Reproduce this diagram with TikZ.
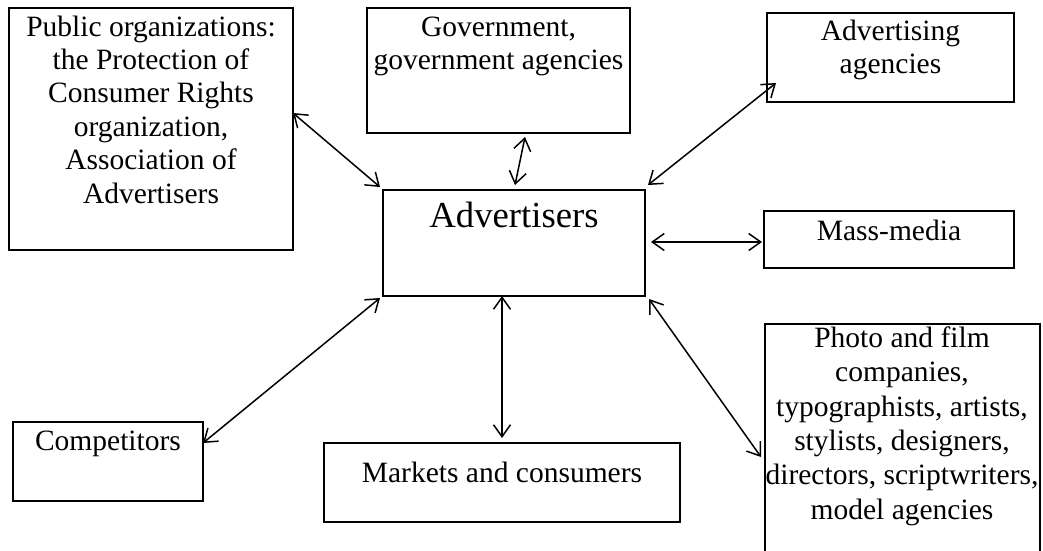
\documentclass[tikz,border=0pt]{standalone}
\usepackage{fontspec}
\setmainfont{Liberation Serif}
\usetikzlibrary{arrows.meta,calc}
% top-aligned, centred block of lines; its baseline is that of the first line
\newcommand\boxlines[1]{\parbox[t]{340pt}{\centering #1}}

\begin{document}
\begin{tikzpicture}[x=1pt,y=-1pt,
  frame/.style={draw, line width=1.8pt, rectangle, inner sep=0pt, outer sep=0pt, anchor=north west},
  boxtext/.style={inner sep=0pt, anchor=base, font=\fontsize{29.5}{33.4}\selectfont},
  link/.style={line width=1.5pt,
    {Straight Barb[length=12pt,width=17pt]}-{Straight Barb[length=12pt,width=17pt]}}
]
\useasboundingbox (0,0) rectangle (1043,550);
\clip (0,0) rectangle (1043,550);

% boxes
\node[frame, minimum width=284pt, minimum height=242pt] (pub)   at (9,8)     {};
\node[frame, minimum width=263pt, minimum height=125pt] (gov)   at (367,8)   {};
\node[frame, minimum width=262pt, minimum height=106pt] (adv)   at (383,190) {};
\node[frame, minimum width=247pt, minimum height=89pt]  (agc)   at (767,13)  {};
\node[frame, minimum width=250pt, minimum height=57pt]  (mass)  at (764,211) {};
\node[frame, minimum width=190pt, minimum height=79pt]  (comp)  at (13,422)  {};
\node[frame, minimum width=356pt, minimum height=79pt]  (mkt)   at (324,443) {};
\node[frame, minimum width=275pt, minimum height=240pt] (photo) at (765,324) {};

% box texts
\node[boxtext] (pubtext) at (151,36) {\boxlines{Public organizations:\\ the Protection of\\
  Consumer Rights\\ organization,\\ Association of\\ Advertisers}};
\node[boxtext] (govtext) at (498.5,36) {\boxlines{Government,\\ government agencies}};
\node[boxtext, font=\fontsize{36.7}{40}\selectfont] (advtext) at (514,227) {Advertisers};
\node[boxtext] (agctext) at (890.5,40) {\boxlines{Advertising\\ agencies}};
\node[boxtext] (masstext) at (889,240) {Mass-media};
\node[boxtext] (comptext) at (108,450) {Competitors};
\node[boxtext] (mkttext) at (502,482) {Markets and consumers};
\node[boxtext, font=\fontsize{29.5}{34.3}\selectfont] (phototext) at (902,347.5)
  {\boxlines{Photo and film\\ companies,\\ typographists, artists,\\ stylists, designers,\\
  directors, scriptwriters,\\ model agencies}};

% two-way links
\draw[link] ($(pub.north east)+(0,105)$)   -- ($(adv.north west)+(-3,-3)$);
\draw[link] ($(gov.south west)+(158,4)$)   -- ($(adv.north west)+(132,-5)$);
\draw[link] ($(agc.south west)+(9,-19)$)   -- ($(adv.north east)+(3,-5)$);
\draw[link] ($(adv.north east)+(6,52)$)    -- ($(mass.south west)+(-2,-26)$);
\draw[link] ($(comp.north east)+(0,21)$)   -- ($(adv.south west)+(-3,2)$);
\draw[link] ($(adv.south west)+(119,0)$)   -- ($(mkt.north west)+(178,-5)$);
\draw[link] ($(adv.south east)+(4,3)$)     -- ($(photo.north west)+(-4,133)$);
\end{tikzpicture}
\end{document}
